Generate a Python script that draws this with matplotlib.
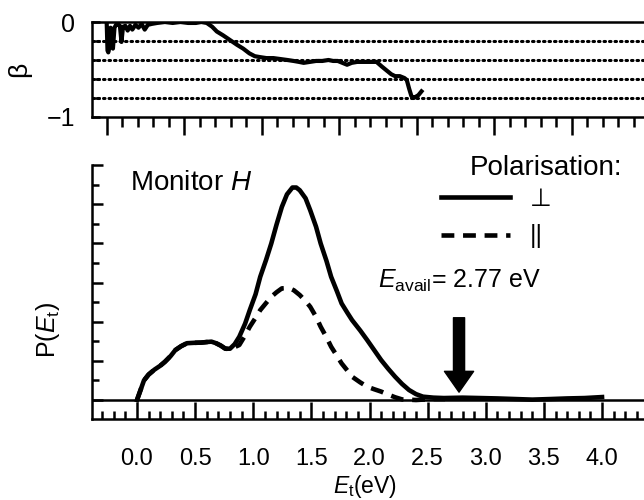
import numpy as np
import matplotlib
matplotlib.use("Agg")
import matplotlib.pyplot as plt
from matplotlib.ticker import MultipleLocator, NullFormatter

plt.rcParams['font.family'] = ['Liberation Sans', 'DejaVu Sans']
plt.rcParams['mathtext.fontset'] = 'custom'
plt.rcParams['mathtext.rm'] = 'Liberation Sans'
plt.rcParams['mathtext.it'] = 'Liberation Sans:italic'

# top panel: anisotropy parameter beta (x in the panel's own tick units)
beta_u = [0.00, 0.01, 0.02, 0.04, 0.05, 0.07, 0.08, 0.10, 0.12, 0.14,
          0.17, 0.19, 0.21, 0.24, 0.27, 0.30, 0.33, 0.37, 0.41, 0.45,
          0.49, 0.53, 0.58, 0.65, 0.75, 0.85, 0.95, 1.05, 1.15, 1.22,
          1.29, 1.36, 1.42, 1.50, 1.59, 1.68, 1.76, 1.84, 1.91, 1.98,
          2.06, 2.15, 2.24, 2.33, 2.41, 2.48, 2.54, 2.62, 2.70, 2.78,
          2.86, 2.92, 2.98, 3.04, 3.10, 3.16, 3.23, 3.30, 3.38, 3.48,
          3.55, 3.61, 3.67, 3.72, 3.78, 3.84, 3.87, 3.90, 3.93, 3.96,
          3.98, 4.02, 4.06]
beta = [-0.02, -0.30, -0.32, -0.25, -0.06, -0.24, -0.28, -0.06, -0.03, -0.02,
        -0.04, -0.21, -0.05, -0.04, -0.09, -0.04, -0.08, -0.03, -0.06, -0.02,
        -0.08, -0.03, -0.02, -0.01, 0.00, -0.01, 0.00, -0.01, -0.01, 0.00,
        -0.01, -0.05, -0.10, -0.14, -0.19, -0.24, -0.28, -0.33, -0.36, -0.37,
        -0.38, -0.38, -0.39, -0.40, -0.41, -0.42, -0.43, -0.42, -0.41, -0.41,
        -0.40, -0.41, -0.41, -0.43, -0.45, -0.43, -0.42, -0.42, -0.42, -0.42,
        -0.47, -0.51, -0.55, -0.57, -0.57, -0.59, -0.61, -0.70, -0.78, -0.80,
        -0.79, -0.77, -0.73]
beta_grid = [-0.2, -0.4, -0.6, -0.8]

# bottom panel: P(E_t) for the two polarisations
e_perp = [0.00, 0.03, 0.06, 0.10, 0.15, 0.20, 0.24, 0.29, 0.33, 0.38,
          0.43, 0.49, 0.55, 0.60, 0.64, 0.68, 0.72, 0.76, 0.80, 0.84,
          0.88, 0.93, 0.97, 1.02, 1.06, 1.11, 1.155, 1.20, 1.246, 1.29,
          1.337, 1.37, 1.40, 1.45, 1.49, 1.54, 1.58, 1.63, 1.67, 1.72,
          1.76, 1.81, 1.85, 1.92, 1.98, 2.04, 2.10, 2.16, 2.22, 2.28,
          2.34, 2.40, 2.46, 2.55, 2.64, 2.80, 2.95, 3.10, 3.25, 3.40,
          3.56, 3.70, 3.85, 4.00]
p_perp = [0.0, 0.5, 1.0, 1.3, 1.55, 1.75, 1.95, 2.25, 2.55, 2.75,
          2.9, 2.92, 2.93, 2.96, 2.98, 2.9, 2.78, 2.62, 2.62, 2.85,
          3.23, 3.9, 4.59, 5.4, 6.29, 7.15, 7.99, 8.95, 9.86, 10.5,
          10.85, 10.85, 10.71, 10.3, 9.69, 8.85, 7.99, 7.1, 6.29, 5.55,
          4.93, 4.45, 4.08, 3.55, 3.06, 2.55, 2.04, 1.6, 1.19, 0.82,
          0.51, 0.3, 0.17, 0.12, 0.1, 0.12, 0.1, 0.08, 0.05, 0.02,
          0.05, 0.08, 0.1, 0.15]
e_par = [0.00, 0.03, 0.06, 0.10, 0.15, 0.20, 0.24, 0.29, 0.33, 0.38,
         0.43, 0.49, 0.55, 0.60, 0.64, 0.68, 0.72, 0.76, 0.80, 0.84,
         0.88, 0.93, 0.97, 1.02, 1.06, 1.11, 1.155, 1.20, 1.246, 1.307,
         1.35, 1.40, 1.45, 1.49, 1.54, 1.58, 1.63, 1.67, 1.72, 1.76,
         1.81, 1.85, 1.92, 1.98, 2.04, 2.10, 2.16, 2.22, 2.28, 2.40,
         2.55, 2.65]
p_par = [0.0, 0.5, 1.0, 1.3, 1.55, 1.75, 1.95, 2.25, 2.55, 2.75,
         2.9, 2.92, 2.93, 2.96, 2.98, 2.9, 2.78, 2.62, 2.6, 2.7,
         2.81, 3.3, 3.74, 4.2, 4.59, 4.95, 5.27, 5.5, 5.70, 5.72,
         5.6, 5.36, 5.05, 4.76, 4.25, 3.74, 3.2, 2.72, 2.25, 1.87,
         1.5, 1.19, 0.9, 0.68, 0.55, 0.43, 0.28, 0.14, 0.03, 0.0,
         0.05, 0.05]
e_avail = 2.77
xticks = [0.0, 0.5, 1.0, 1.5, 2.0, 2.5, 3.0, 3.5, 4.0]

fig = plt.figure(figsize=(6.44, 5.0), dpi=100)
ax1 = fig.add_axes([92/644, 1 - 117/500, 1 - 92/644, 95/500])
ax2 = fig.add_axes([92/644, 1 - 419/500, 1 - 92/644, 254/500])

# ---- top panel
ax1.plot(beta_u, beta, color='black', lw=3.0, solid_joinstyle='round')
for g in beta_grid:
    ax1.axhline(g, color='black', lw=2.2, ls=(0, (0.5, 1.3)), dash_capstyle='round')
ax1.set_xlim(-0.19, 6.93)
ax1.set_ylim(-1, 0)
ax1.spines['right'].set_visible(False)
for s in ['top', 'left', 'bottom']:
    ax1.spines[s].set_linewidth(1.8)
ax1.xaxis.set_major_locator(MultipleLocator(1))
ax1.xaxis.set_minor_locator(MultipleLocator(0.2))
ax1.xaxis.set_major_formatter(NullFormatter())
ax1.tick_params(axis='x', which='major', direction='out', length=13, width=1.8)
ax1.tick_params(axis='x', which='minor', direction='out', length=7, width=1.8)
ax1.set_yticks([-1, 0])
ax1.set_yticks(beta_grid, minor=True)
ax1.tick_params(axis='y', which='both', direction='in', length=6, width=1.8,
                labelsize=18, pad=12)
ax1.set_ylabel('β', fontsize=19)
ax1.yaxis.set_label_coords(-0.11, 0.5)

# ---- bottom panel
ax2.plot(e_perp, p_perp, color='black', lw=3.3, label='⊥', solid_joinstyle='round')
ax2.plot(e_par, p_par, color='black', lw=3.3, ls=(0, (2.8, 1.9)), label='||')
ax2.axhline(0, color='black', lw=1.8)
ax2.set_xlim(-0.387, 4.361)
ax2.set_ylim(-0.97, 12)
for s in ['top', 'right']:
    ax2.spines[s].set_visible(False)
for s in ['left', 'bottom']:
    ax2.spines[s].set_linewidth(1.8)
ax2.set_xticks(xticks)
ax2.set_xticklabels(['%.1f' % t for t in xticks])
ax2.xaxis.set_minor_locator(MultipleLocator(0.1))
ax2.tick_params(axis='x', which='major', direction='in', length=12, width=1.8,
                labelsize=17, pad=21)
ax2.tick_params(axis='x', which='minor', direction='in', length=6, width=1.8)
ax2.yaxis.set_major_locator(MultipleLocator(2))
ax2.yaxis.set_minor_locator(MultipleLocator(1))
ax2.yaxis.set_major_formatter(NullFormatter())
ax2.tick_params(axis='y', which='major', direction='in', length=8, width=1.8)
ax2.tick_params(axis='y', which='minor', direction='in', length=5, width=1.8)

ax2.set_xlabel(r'$\mathit{E}_{\mathrm{t}}$(eV)', fontsize=16.5)
ax2.xaxis.set_label_coords(0.495, -0.214)
ax2.set_ylabel(r'P($\mathit{E}_{\mathrm{t}}$)', fontsize=18)
ax2.yaxis.set_label_coords(-0.055, 0.35)

ax2.text(0.069, 0.93, r'Monitor $\mathit{H}$', transform=ax2.transAxes,
         fontsize=20, ha='left', va='center')
ax2.text(0.822, 0.99, 'Polarisation:', transform=ax2.transAxes,
         fontsize=20, ha='center', va='center')
ax2.legend(loc='upper left', bbox_to_anchor=(0.632, 0.915), frameon=False,
           fontsize=18, handlelength=2.75, handletextpad=0.8,
           labelspacing=0.55, borderpad=0, borderaxespad=0)
ax2.text(2.07, 6.1, r'$\mathit{E}_{\mathrm{avail}}$= 2.77 eV', fontsize=18,
         ha='left', va='center')
ax2.annotate('', xy=(e_avail, 0.4), xytext=(e_avail, 4.2),
             arrowprops=dict(facecolor='black', edgecolor='black', width=8,
                             headwidth=21, headlength=15, shrink=0))

fig.savefig('out.png', dpi=100)
